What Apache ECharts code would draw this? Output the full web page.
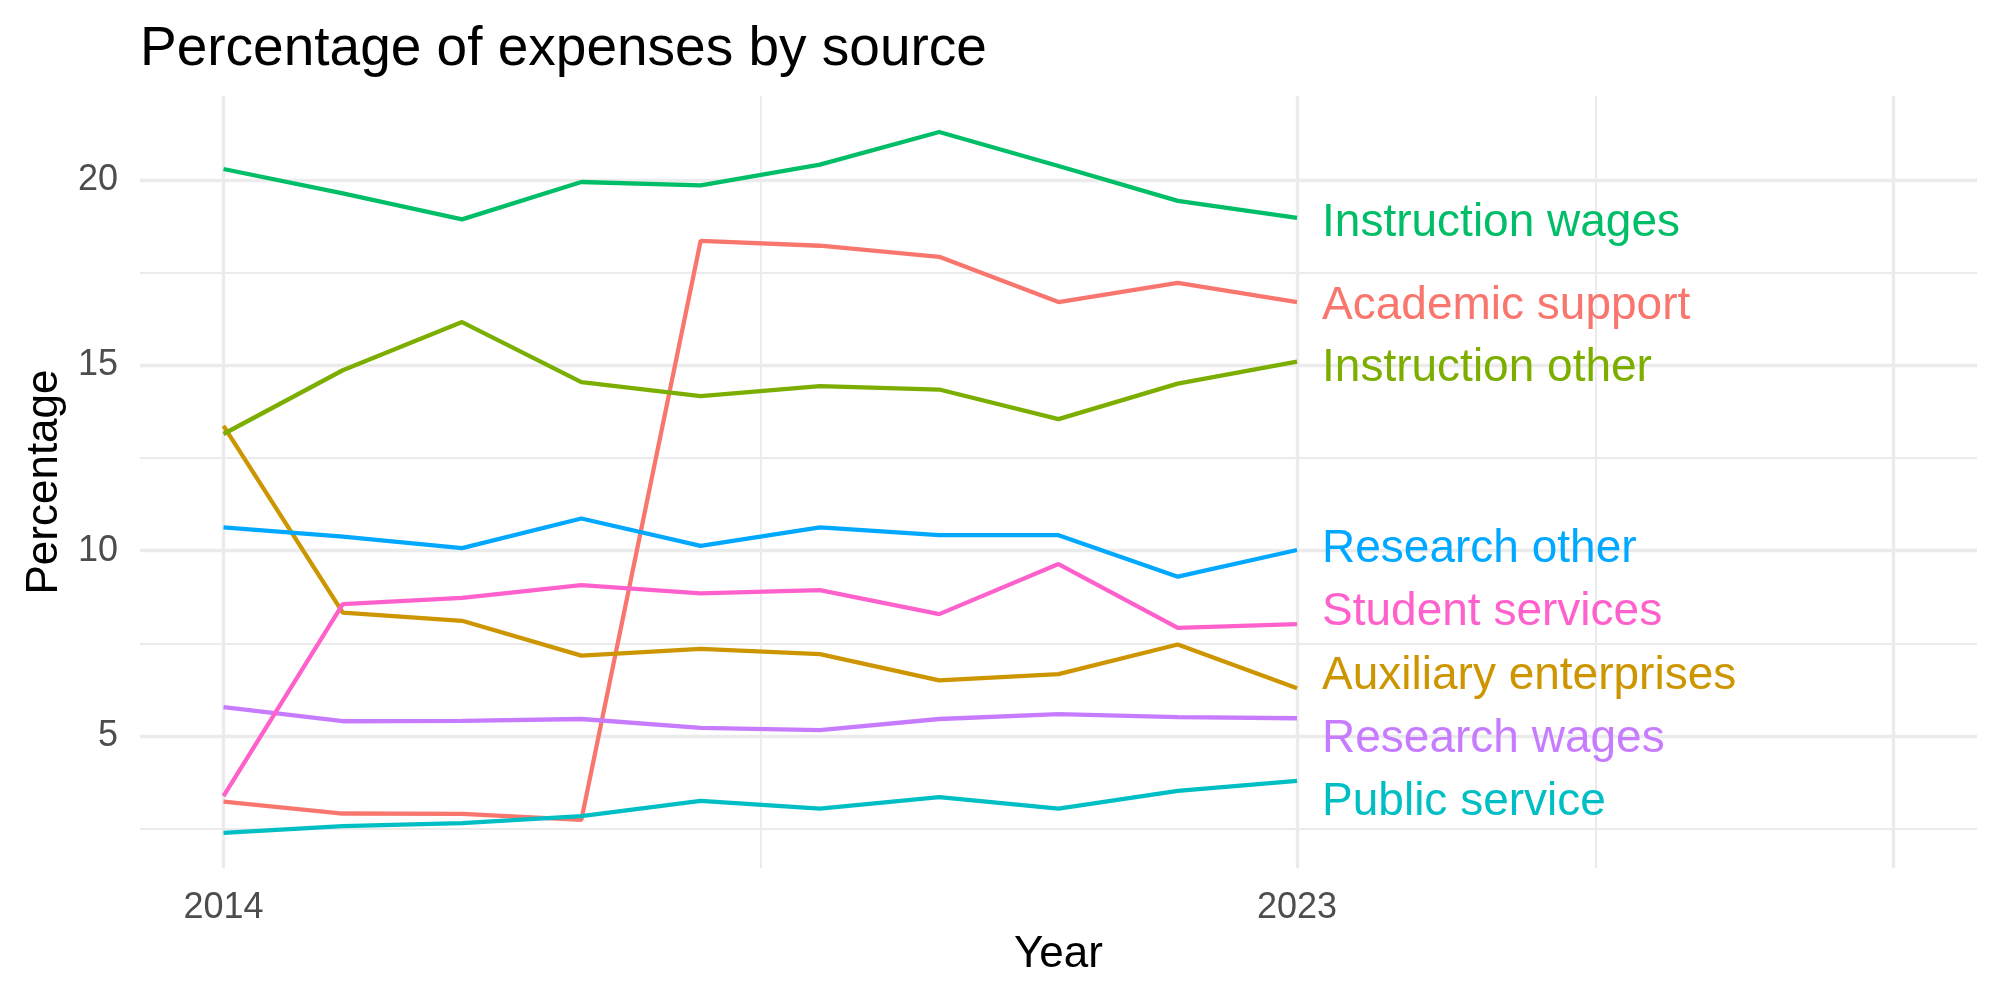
<!DOCTYPE html>
<html>
<head>
<meta charset="utf-8">
<script src="https://cdn.jsdelivr.net/npm/echarts@6/dist/echarts.min.js"></script>
<style>
  html, body { margin: 0; padding: 0; background: #fff; }
  #chart { width: 2000px; height: 1000px; }
</style>
</head>
<body>
<div id="chart"></div>
<script>
var years = [2014, 2015, 2016, 2017, 2018, 2019, 2020, 2021, 2022, 2023];

var academicSupport      = [3.23, 2.91, 2.90, 2.74, 18.36, 18.23, 17.93, 16.71, 17.23, 16.71];
var auxiliaryEnterprises = [13.37, 8.33, 8.11, 7.17, 7.35, 7.21, 6.50, 6.67, 7.47, 6.29];
var instructionOther     = [13.15, 14.87, 16.17, 14.55, 14.17, 14.44, 14.35, 13.55, 14.51, 15.10];
var instructionWages     = [20.30, 19.64, 18.94, 19.95, 19.86, 20.42, 21.30, 20.38, 19.44, 18.98];
var publicService        = [2.39, 2.57, 2.65, 2.84, 3.25, 3.04, 3.35, 3.04, 3.52, 3.79];
var researchOther        = [10.63, 10.38, 10.07, 10.87, 10.13, 10.63, 10.42, 10.42, 9.30, 10.02];
var researchWages        = [5.78, 5.40, 5.41, 5.46, 5.22, 5.16, 5.46, 5.59, 5.51, 5.48];
var studentServices      = [3.38, 8.56, 8.73, 9.07, 8.85, 8.94, 8.29, 9.64, 7.92, 8.02];

var seriesNames = ['Academic support', 'Auxiliary enterprises', 'Instruction other', 'Instruction wages',
                   'Public service', 'Research other', 'Research wages', 'Student services'];
var seriesValues = [academicSupport, auxiliaryEnterprises, instructionOther, instructionWages,
                    publicService, researchOther, researchWages, studentServices];
var colors = ['#F8766D', '#CD9600', '#7CAE00', '#00BE67', '#00BFC4', '#00A9FF', '#C77CFF', '#FF61CC'];
// vertical nudge of the end labels (px), like ggrepel pushed them apart
var labelNudge = [4, -12, 7, 5, 21, -1, 21, -12];

var yMajor = [5, 10, 15, 20];
var yMinor = [2.5, 7.5, 12.5, 17.5];
var xMajor = [2014, 2023, 2028];
var xMinor = [2018.5, 2025.5];
var xLabels = { 2014: '2014', 2023: '2023', 2028: '' };

var font = 'Liberation Sans';
var gridColor = '#EBEBEB';

var chart = echarts.init(document.getElementById('chart'));

// gridlines + tick labels as markLines on an empty series
var gridLines = [];
yMinor.forEach(function (v) {
    gridLines.push({ yAxis: v, lineStyle: { width: 2 }, label: { show: false } });
});
yMajor.forEach(function (v) {
    gridLines.push({ yAxis: v, lineStyle: { width: 3.3 }, label: { show: true, formatter: String(v), padding: [3, 0, 0, 0] } });
});
xMinor.forEach(function (v) {
    gridLines.push({ xAxis: v, lineStyle: { width: 2 }, label: { show: false } });
});
xMajor.forEach(function (v) {
    gridLines.push({ xAxis: v, lineStyle: { width: 3.3 }, label: { show: xLabels[v] !== '', formatter: xLabels[v], distance: 22 } });
});

var series = [{
    name: 'grid',
    type: 'line',
    data: [],
    silent: true,
    z: 1,
    markLine: {
        z: 0,
        silent: true,
        symbol: ['none', 'none'],
        animation: false,
        lineStyle: { color: gridColor, type: 'solid' },
        label: {
            position: 'start',
            distance: 22,
            color: '#4D4D4D',
            fontSize: 36,
            fontFamily: font
        },
        emphasis: { disabled: true },
        data: gridLines
    }
}];

seriesNames.forEach(function (name, i) {
    series.push({
        name: name,
        type: 'line',
        z: 2,
        data: years.map(function (y, j) { return [y, seriesValues[i][j]]; }),
        showSymbol: false,
        symbol: 'none',
        lineStyle: { color: colors[i], width: 4.3 },
        itemStyle: { color: colors[i] },
        emphasis: { disabled: true },
        endLabel: {
            show: true,
            formatter: name,
            color: colors[i],
            fontSize: 46,
            fontFamily: font,
            distance: 25,
            offset: [0, labelNudge[i]]
        }
    });
});

option = {
    animation: false,
    backgroundColor: '#ffffff',
    textStyle: { fontFamily: font },
    title: {
        text: 'Percentage of expenses by source',
        left: 135,
        top: 17,
        textStyle: { fontSize: 55, fontWeight: 'normal', color: '#000', fontFamily: font }
    },
    grid: { left: 140, right: 23, top: 96, bottom: 132, containLabel: false },
    xAxis: {
        type: 'value',
        min: 2013.3,
        max: 2028.7,
        name: 'Year',
        nameLocation: 'middle',
        nameGap: 65,
        nameTextStyle: { fontSize: 44, color: '#000', fontFamily: font },
        axisLine: { show: false },
        axisTick: { show: false },
        axisLabel: { show: false },
        splitLine: { show: false }
    },
    yAxis: {
        type: 'value',
        min: 1.44,
        max: 22.27,
        name: 'Percentage',
        nameLocation: 'middle',
        nameRotate: 90,
        nameGap: 73,
        nameTextStyle: { fontSize: 44, color: '#000', fontFamily: font },
        axisLine: { show: false },
        axisTick: { show: false },
        axisLabel: { show: false },
        splitLine: { show: false }
    },
    series: series
};
chart.setOption(option);

window.onresize = function () {
    chart.resize();
};
</script>
</body>
</html>
